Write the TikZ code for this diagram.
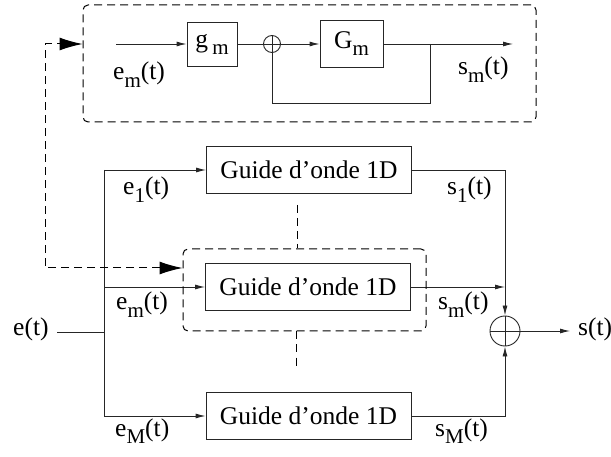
\documentclass[tikz,border=0pt]{standalone}
\usepackage{fontspec}
\setmainfont{Liberation Serif}
\usetikzlibrary{arrows.meta, positioning}
\newcommand{\lo}[1]{\raisebox{-0.6ex}{\fontsize{21}{21}\selectfont #1}}

\begin{document}
\begin{tikzpicture}[
  x=1pt, y=-1pt,
  font=\fontsize{25.5}{28}\selectfont,
  >={Latex[length=10pt,width=5pt]},
  wire/.style={draw=black!85, line width=0.9pt},
  blk/.style={wire, rectangle, inner sep=0pt},
  guide/.style={blk, minimum width=205pt, minimum height=47pt},
  sumnode/.style={wire, circle, inner sep=0pt, minimum size=#1},
  frame/.style={draw=black, line width=1pt, dash pattern=on 8pt off 5pt,
                rounded corners=5pt, inner sep=0pt},
  dashline/.style={draw=black, line width=1pt, dash pattern=on 8pt off 5pt},
  bigtip/.style={dashline, {Latex[length=23pt,width=13pt]}-{Latex[length=23pt,width=13pt]}},
  lbl/.style={inner sep=0pt, anchor=base west},
]
  \useasboundingbox (0,0) rectangle (611,457);

  % --- zoom on one waveguide (top) --------------------------------
  \node[frame, minimum width=453pt, minimum height=117pt] (zoom) at (309.5,63.5) {};
  \coordinate (emin) at (116,44);
  \node[blk, minimum width=50pt, minimum height=44pt] (gm) at (212,44) {g\,\lo{m}};
  \node[sumnode=17pt] (sumg) at (272,44) {};
  \node[blk, minimum width=63pt, minimum height=47pt] (Gm) at (351.5,44) {G\lo{m}};
  \coordinate (fb) at (430,44);
  \coordinate (fbdown) at (430,103);
  \coordinate (smout) at (513,44);

  \draw[wire, ->] (emin) -- (gm.west);
  \draw[wire] (gm.east) -- (sumg.west);
  \draw[wire] (sumg.west) -- (sumg.east);
  \draw[wire] (sumg.north) -- (sumg.south);
  \draw[wire, ->] (sumg.east) -- (Gm.west);
  \draw[wire, ->] (Gm.east) -- (smout);
  \draw[wire] (fb) -- (fbdown) -| (sumg.south);

  \node[lbl] (emtop) at (113,80) {e\lo{m}(t)};
  \node[lbl] (smtop) at (458,75) {s\lo{m}(t)};

  % --- bank of waveguides -----------------------------------------
  \node[guide] (g1) at (309,170) {Guide d’onde 1D};
  \node[guide] (g2) at (308,287) {Guide d’onde 1D};
  \node[guide] (g3) at (308.5,416) {Guide d’onde 1D};
  \node[sumnode=30pt] (sum) at (505,331) {};

  \coordinate (ein) at (57,332);
  \coordinate (bus) at (104,332);
  \coordinate (bus1) at (104,170);
  \coordinate (bus2) at (104,287);
  \coordinate (bus3) at (104,416);
  \coordinate (out1) at (505,170);
  \coordinate (out2) at (505,287);
  \coordinate (out3) at (505,416);
  \coordinate (sout) at (570,331);

  \draw[wire] (ein) -- (bus);
  \draw[wire] (bus1) -- (bus3);
  \draw[wire, ->] (bus1) -- (g1.west);
  \draw[wire, ->] (bus2) -- (g2.west);
  \draw[wire, ->] (bus3) -- (g3.west);
  \draw[wire, ->] (g1.east) -- (out1) -- (sum.north);
  \draw[wire, ->] (g2.east) -- (out2);
  \draw[wire, ->] (g3.east) -- (out3) -- (sum.south);
  \draw[wire] (sum.west) -- (sum.east);
  \draw[wire] (sum.north) -- (sum.south);
  \draw[wire, ->] (sum.east) -- (sout);

  \node[lbl] (le) at (13,336) {e(t)};
  \node[lbl] (le1) at (123,195) {e\lo{1}(t)};
  \node[lbl] (lem) at (116,310) {e\lo{m}(t)};
  \node[lbl] (leM) at (115,436) {e\lo{M}(t)};
  \node[lbl] (ls1) at (447,195) {s\lo{1}(t)};
  \node[lbl] (lsm) at (438,310) {s\lo{m}(t)};
  \node[lbl] (lsM) at (435,436) {s\lo{M}(t)};
  \node[lbl] (ls) at (578,335) {s(t)};

  % --- selected guide and link to the zoom ------------------------
  \node[frame, minimum width=243pt, minimum height=82pt] (sel) at (304.5,290) {};
  \coordinate (dot1) at (297,205);
  \coordinate (dot2) at (296,370);
  \coordinate (fbl) at (45,268);
  \coordinate (fbt) at (45,44);
  \draw[dashline] (dot1) -- (sel.north -| dot1);
  \draw[dashline] (sel.south -| dot2) -- (dot2);
  \draw[bigtip] (sel.west |- fbl) -- (fbl) -- (fbt) -- (zoom.west |- fbt);
\end{tikzpicture}
\end{document}
